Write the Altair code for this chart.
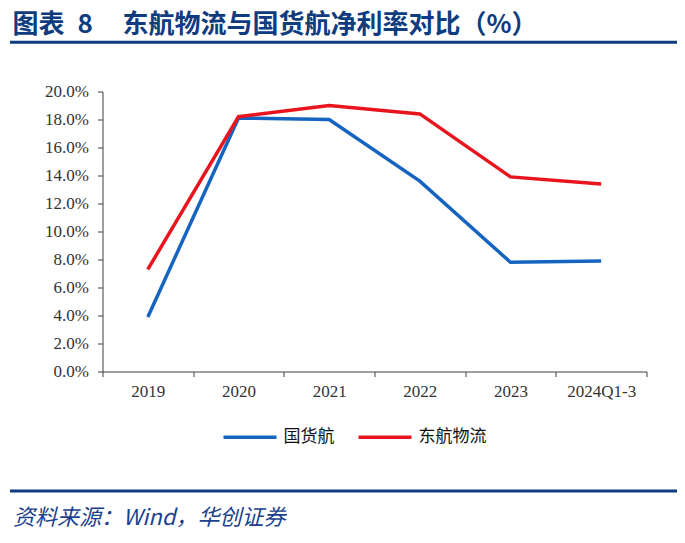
import altair as alt
import pandas as pd

categories = ["2019", "2020", "2021", "2022", "2023", "2024Q1-3"]
guohuo = [3.9, 18.1, 18.0, 13.6, 7.8, 7.9]        # 国货航 净利率 (%)
donghang = [7.3, 18.2, 19.0, 18.4, 13.9, 13.4]    # 东航物流 净利率 (%)
series_names = ["国货航", "东航物流"]
series_colors = ["#1565C0", "#E8141E"]
y_ticks = [0, 0.02, 0.04, 0.06, 0.08, 0.10, 0.12, 0.14, 0.16, 0.18, 0.20]

title_a = "图表\u20028"
title_b = "东航物流与国货航净利率对比（%）"
source_text = "资料来源：Wind，华创证券"

rows = []
for i, c in enumerate(categories):
    rows.append({"pos": i + 0.5, "cat": c, "series": series_names[0], "value": guohuo[i] / 100})
    rows.append({"pos": i + 0.5, "cat": c, "series": series_names[1], "value": donghang[i] / 100})
df = pd.DataFrame(rows)

W, H = 544, 280
navy = "#0E3C7E"
axis_col = "#404040"

cat_js = "[" + ",".join("'" + c + "'" for c in categories) + "]"
label_expr = f"datum.value < {len(categories)} ? {cat_js}[datum.value] : ''"

lines = alt.Chart(df).mark_line(strokeWidth=3.5).encode(
    x=alt.X("pos:Q",
            scale=alt.Scale(domain=[0, len(categories)], nice=False, zero=False),
            axis=alt.Axis(title=None, values=list(range(len(categories) + 1)),
                          labelExpr=label_expr, labelOffset=W / len(categories) / 2,
                          labelFlush=False, labelOverlap=False, labelBound=False,
                          tickSize=5, tickColor=axis_col, domainColor=axis_col,
                          labelPadding=7, labelFont="Liberation Serif", labelFontSize=17,
                          labelColor="#333333", grid=False)),
    y=alt.Y("value:Q",
            scale=alt.Scale(domain=[0, 0.2], nice=False),
            axis=alt.Axis(title=None, values=y_ticks, format=".1%",
                          tickSize=5, tickColor=axis_col, domainColor=axis_col,
                          labelPadding=9, labelFont="Liberation Serif", labelFontSize=17,
                          labelColor="#333333", grid=False)),
    color=alt.Color("series:N",
                    scale=alt.Scale(domain=series_names, range=series_colors),
                    legend=alt.Legend(title=None, orient="none", legendX=119, legendY=317,
                                      direction="horizontal", symbolType="stroke",
                                      symbolSize=2809, symbolStrokeWidth=3.5,
                                      labelFont="Noto Sans CJK SC", labelFontSize=17,
                                      labelColor="#111111", labelOffset=5,
                                      columnPadding=17)),
    order=alt.Order("pos:Q"),
)

one = alt.Data(values=[{"k": 1}])

t1 = alt.Chart(one).mark_text(font="Noto Sans CJK SC", fontSize=26, fontWeight="bold",
                              color=navy, align="left", baseline="alphabetic").encode(
    x=alt.value(-90), y=alt.value(-59), text=alt.value(title_a))
t2 = alt.Chart(one).mark_text(font="Noto Sans CJK SC", fontSize=26, fontWeight="bold",
                              color=navy, align="left", baseline="alphabetic").encode(
    x=alt.value(20), y=alt.value(-59), text=alt.value(title_b))
top_rule = alt.Chart(one).mark_rule(color=navy, strokeWidth=3).encode(
    x=alt.value(-92.5), x2=alt.value(575.5), y=alt.value(-49.2))
bottom_rule = alt.Chart(one).mark_rule(color=navy, strokeWidth=3).encode(
    x=alt.value(-92.5), x2=alt.value(575.5), y=alt.value(399.5))
src = alt.Chart(one).mark_text(font="Noto Sans CJK SC", fontSize=22, fontStyle="italic",
                               color="#1B3F8C", align="left", baseline="alphabetic").encode(
    x=alt.value(-89.5), y=alt.value(433), text=alt.value(source_text))

chart = alt.layer(lines, t1, t2, top_rule, bottom_rule, src).properties(
    width=W, height=H,
    view=alt.ViewBackground(stroke=None, strokeWidth=0),
    autosize=alt.AutoSizeParams(type="none"),
    padding={"left": 94.5, "top": 83.5, "right": 30.5, "bottom": 163.5},
).configure_view(stroke=None, strokeWidth=0).configure(background="white")

chart.save("out.html", embed_options={"renderer": "svg", "actions": False})
